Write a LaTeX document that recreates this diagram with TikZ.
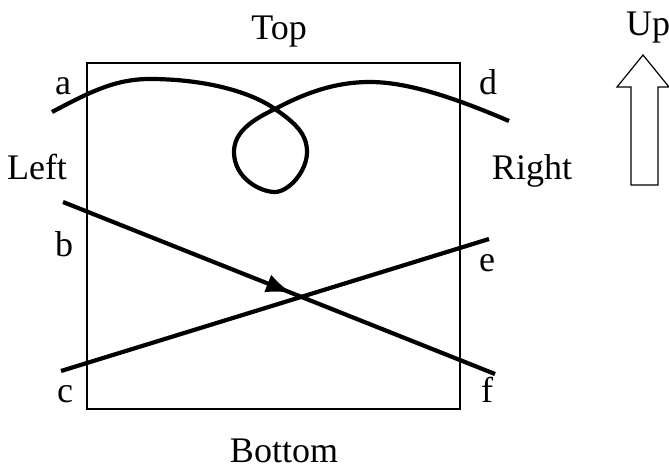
\documentclass[tikz,border=0pt]{standalone}
\usepackage{fontspec}
\setmainfont{Liberation Serif}
\usetikzlibrary{arrows.meta,decorations.markings}
\tikzset{
  frame/.style={black, line width=2pt},
  strand/.style={black, line width=4.2pt},
  label/.style={anchor=base, inner sep=0pt, font=\fontsize{36}{40}\selectfont},
  midarrow/.style={postaction={decorate}, decoration={markings, mark=at position 0.53 with {\arrow{Latex[length=26pt,width=19pt]}}}}
}
\begin{document}
\begin{tikzpicture}[x=1pt,y=-1pt]
  \useasboundingbox (0,0) rectangle (669,470);
  % the box and its sides
  \draw[frame] (87,63) rectangle (460,409);
  \node[label] (top) at (279,40) {Top};
  \node[label] (bottom) at (284,462) {Bottom};
  \node[label] (left) at (37,180) {Left};
  \node[label] (right) at (532,180) {Right};
  % end labels
  \node[label] (a) at (63,95) {a};
  \node[label] (b) at (64,257) {b};
  \node[label] (c) at (65,402) {c};
  \node[label] (d) at (488,95) {d};
  \node[label] (e) at (487,272) {e};
  \node[label] (f) at (487,402) {f};
  % strands
  \coordinate (ad1) at (52,112);
  \coordinate (ad2) at (509,121);
  \draw[strand] (ad1) .. controls (90,92) and (115,79) .. (150,79)
    .. controls (200,79) and (248,90) .. (275,109)
    .. controls (297,124) and (307,135) .. (307,152)
    .. controls (307,172) and (288,192) .. (275,192)
    .. controls (260,192) and (234,178) .. (234,152)
    .. controls (234,132) and (252,120) .. (275,109)
    .. controls (305,93) and (335,82) .. (370,82)
    .. controls (410,82) and (460,100) .. (ad2);
  \coordinate (bf1) at (63,202);
  \coordinate (bf2) at (495,374);
  \draw[strand, midarrow] (bf1) -- (bf2);
  \coordinate (ce1) at (61,371);
  \coordinate (ce2) at (489,239);
  \draw[strand] (ce1) -- (ce2);
  % up arrow
  \node[label] (up) at (648,36) {Up};
  \draw[frame, line width=1.2pt, line join=miter] (643,55) -- (669,87) -- (658,87) -- (658,185)
    -- (631,185) -- (631,87) -- (617,87) -- cycle;
\end{tikzpicture}
\end{document}
